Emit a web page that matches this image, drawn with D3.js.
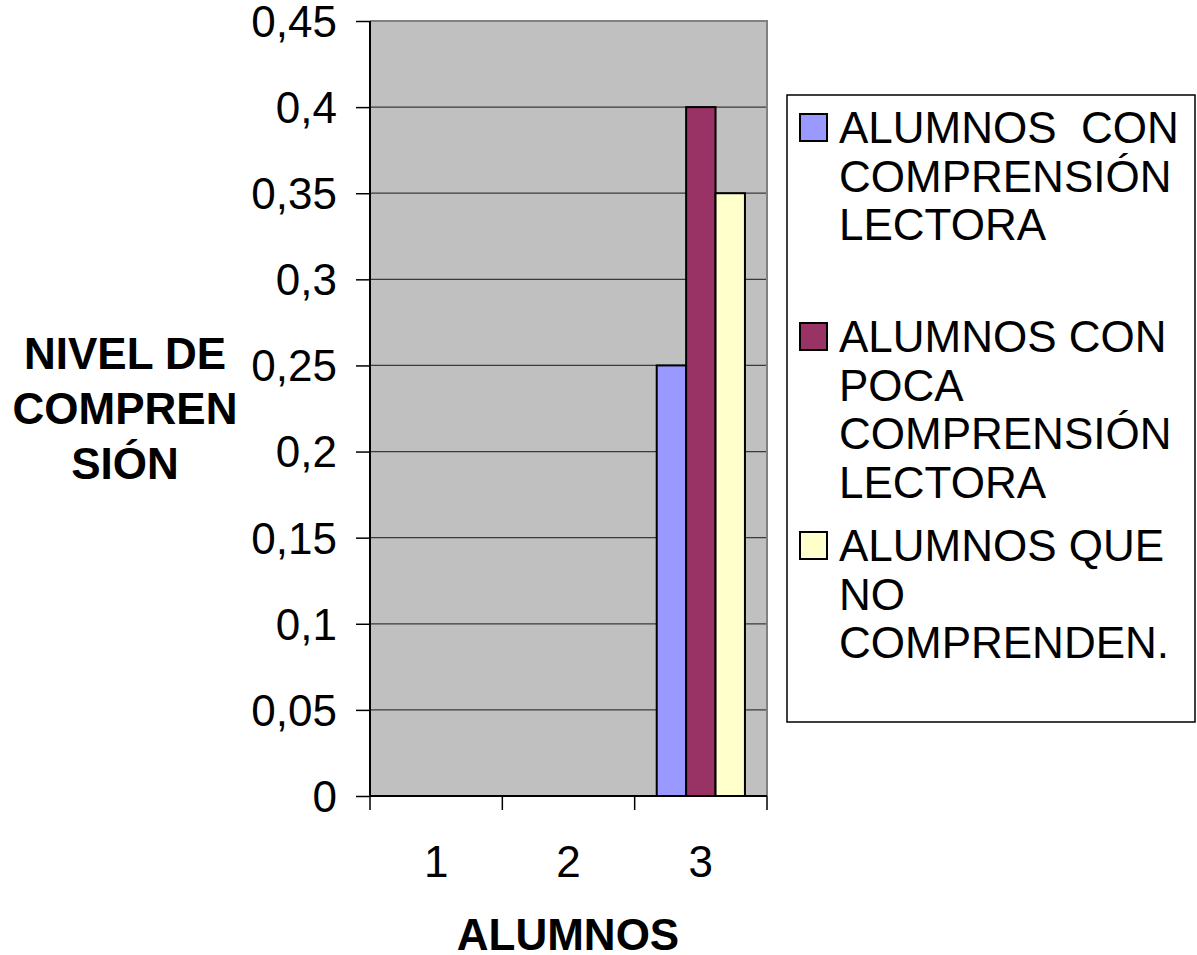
<!DOCTYPE html>
<html><head><meta charset="utf-8">
<script src="https://cdn.jsdelivr.net/npm/d3@7/dist/d3.min.js"></script>
<style>body{margin:0;background:#fff}svg{display:block;font-family:"Liberation Sans",Arial,sans-serif}</style>
</head><body>
<svg id="c" width="1197" height="955"></svg>
<script>
const categories = ["1","2","3"];
const seriesNames = [
  ["ALUMNOS  CON","COMPRENSIÓN","LECTORA"],
  ["ALUMNOS CON","POCA","COMPRENSIÓN","LECTORA"],
  ["ALUMNOS QUE","NO","COMPRENDEN."]
];
const seriesColors = ["#9999FF","#993366","#FFFFCC"];
const values = [
  [0, 0, 0.25],
  [0, 0, 0.40],
  [0, 0, 0.35]
];
const yTicks = [0,0.05,0.1,0.15,0.2,0.25,0.3,0.35,0.4,0.45];
const yTitle = ["NIVEL DE","COMPREN","SIÓN"];
const xTitle = "ALUMNOS";

const svg = d3.select("#c");
const L=370,R=767,T=21,B=796;
const y = d3.scaleLinear().domain([0,0.45]).range([B,T]);
const x = d3.scaleBand().domain(categories).range([L,R]).paddingInner(0).paddingOuter(0);
const bw = x.bandwidth();
const xs = d3.scaleBand().domain(d3.range(seriesNames.length)).range([bw/6,bw*5/6]).padding(0);
const fmt = v => String(+v.toFixed(2)).replace(".",",");

svg.append("rect").attr("x",L).attr("y",T).attr("width",R-L).attr("height",B-T).attr("fill","#C0C0C0");
// grid
svg.append("g").selectAll("line").data(yTicks.filter(d=>d>0)).join("line")
  .attr("x1",L).attr("x2",R).attr("y1",d=>y(d)).attr("y2",d=>y(d))
  .attr("stroke","#3a3a3a").attr("stroke-width",1.2);
// top/right border gray
svg.append("path").attr("d",`M${L},${T}H${R}V${B}`).attr("fill","none").attr("stroke","#808080").attr("stroke-width",2);

// bars
const data=[];
values.forEach((s,si)=>s.forEach((v,ci)=>{ if(v>0) data.push({si,ci,v}); }));
svg.append("g").selectAll("rect").data(data).join("rect")
  .attr("x",d=>x(categories[d.ci])+xs(d.si)).attr("width",xs.bandwidth())
  .attr("y",d=>y(d.v)).attr("height",d=>y(0)-y(d.v))
  .attr("fill",d=>seriesColors[d.si]).attr("stroke","#000").attr("stroke-width",2);

// y axis
const ya = svg.append("g").attr("transform",`translate(${L},0)`)
  .call(d3.axisLeft(y).tickValues(yTicks).tickFormat(fmt).tickSize(14).tickPadding(19));
ya.select(".domain").attr("stroke","#000").attr("stroke-width",2).attr("d",`M0,${T}V${B}`);
ya.selectAll(".tick line").attr("stroke","#000").attr("stroke-width",1.5);
ya.selectAll(".tick text").attr("font-size",44).attr("font-family","Liberation Sans, Arial").attr("fill","#000").attr("dy","0.35em");

// x axis
const xa = svg.append("g").attr("transform",`translate(0,${B})`)
  .call(d3.axisBottom(x).tickSize(0).tickPadding(0));
xa.select(".domain").attr("stroke","#000").attr("stroke-width",2).attr("d",`M${L},0H${R}`);
xa.selectAll(".tick text").attr("font-size",44).attr("font-family","Liberation Sans, Arial").attr("fill","#000").attr("y",81).attr("dy",0);
svg.append("g").selectAll("line").data(d3.range(categories.length+1)).join("line")
  .attr("x1",i=>L+i*x.step()).attr("x2",i=>L+i*x.step()).attr("y1",B).attr("y2",B+14)
  .attr("stroke","#000").attr("stroke-width",1.5);

// titles
svg.append("text").attr("x",568).attr("y",950).attr("text-anchor","middle")
  .attr("font-size",44).attr("font-weight","bold").text(xTitle);
svg.append("g").selectAll("text").data(yTitle).join("text")
  .attr("x",125).attr("y",(d,i)=>369+i*55).attr("text-anchor","middle")
  .attr("font-size",44).attr("font-weight","bold").text(d=>d);

// legend
svg.append("rect").attr("x",787).attr("y",95).attr("width",408).attr("height",627)
  .attr("fill","#fff").attr("stroke","#000").attr("stroke-width",1.5);
const lg = svg.append("g").selectAll("g").data(seriesNames).join("g")
  .attr("transform",(d,i)=>`translate(0,${i*209})`);
lg.append("rect").attr("x",800).attr("y",114).attr("width",27).attr("height",27)
  .attr("fill",(d,i)=>seriesColors[i]).attr("stroke","#000").attr("stroke-width",2);
lg.each(function(lines){
  d3.select(this).selectAll("text").data(lines).join("text")
    .attr("x",839).attr("y",(d,j)=>143+j*48.5).attr("font-size",44).attr("fill","#000")
    .style("white-space","pre").attr("xml:space","preserve").text(d=>d);
});
</script>
</body></html>
